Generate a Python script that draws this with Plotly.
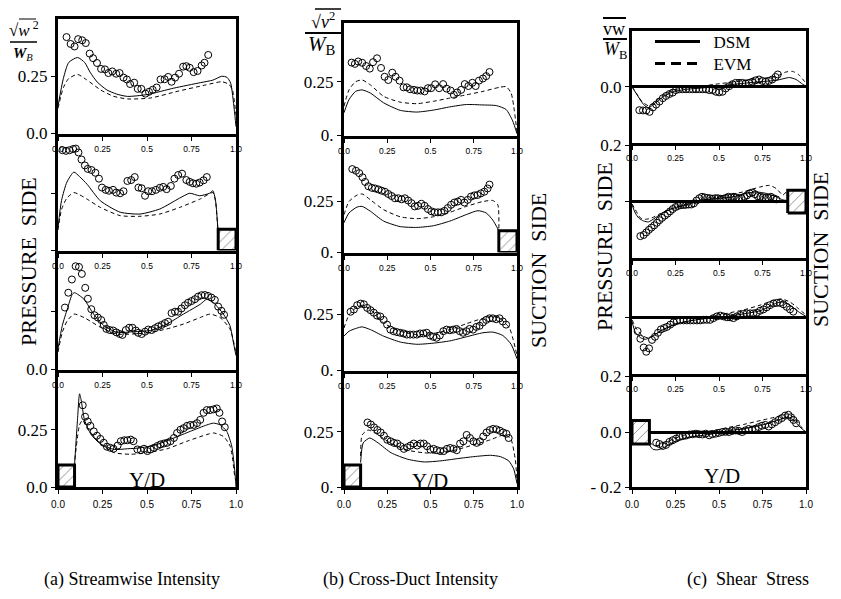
import plotly.graph_objects as go

SERIF = "Liberation Serif, Times New Roman, serif"
SANS = "Liberation Sans, Arial, sans-serif"
W, H = 841, 599
PAGE_PAD = 8  # default body margin of the html page; the figure is sized so the page is exactly W x H

XT_VALS = [0, 0.25, 0.5, 0.75, 1.0]
XT_TEXT = ["0.0", "0.25", "0.5", "0.75", "1.0"]

# ---------------- (a) streamwise intensity ----------------
A1_DSM_X = [0.0, 0.03, 0.06, 0.11, 0.15, 0.18, 0.22, 0.275, 0.33, 0.39, 0.5, 0.65, 0.8, 0.87, 0.92, 0.95, 0.97, 0.99, 1.0]
A1_DSM_Y = [0.12, 0.24, 0.31, 0.332, 0.31, 0.268, 0.225, 0.19, 0.172, 0.162, 0.17, 0.198, 0.222, 0.233, 0.25, 0.245, 0.22, 0.106, 0.03]
A1_EVM_X = [0.0, 0.03, 0.06, 0.11, 0.16, 0.24, 0.31, 0.39, 0.52, 0.67, 0.83, 0.92, 0.96, 0.98, 1.0]
A1_EVM_Y = [0.11, 0.2, 0.24, 0.258, 0.235, 0.19, 0.163, 0.151, 0.155, 0.184, 0.212, 0.226, 0.215, 0.19, 0.08]
A1_EXP_X = [.048, .071, .093, .113, .136, .156, .178, .197, .219, .242, .264, .283, .305, .327, .346, .368, .387, .405, .428, .448,
            .468, .491, .511, .532, .554, .576, .599, .619, .638, .658, .680, .703, .721, .740, .762, .784, .807, .823, .844]
A1_EXP_Y = [.421, .391, .380, .412, .407, .395, .349, .329, .308, .282, .280, .264, .271, .261, .264, .244, .236, .216, .222, .195,
            .195, .174, .182, .191, .201, .236, .237, .247, .226, .244, .261, .292, .294, .287, .268, .273, .297, .309, .343]

A2_DSM_X = [0.0, 0.02, 0.05, 0.089, 0.12, 0.164, 0.238, 0.349, 0.461, 0.572, 0.684, 0.74, 0.796, 0.851, 0.87, 0.885, 0.898]
A2_DSM_Y = [0.1, 0.22, 0.3, 0.344, 0.325, 0.29, 0.218, 0.168, 0.16, 0.182, 0.23, 0.251, 0.24, 0.251, 0.262, 0.22, 0.095]
A2_EVM_X = [0.0, 0.02, 0.05, 0.089, 0.12, 0.164, 0.238, 0.349, 0.461, 0.572, 0.684, 0.796, 0.87, 0.885, 0.898]
A2_EVM_Y = [0.09, 0.18, 0.23, 0.254, 0.245, 0.225, 0.189, 0.153, 0.15, 0.16, 0.189, 0.225, 0.254, 0.215, 0.095]
A2_EXP_X = [.025, .045, .065, .085, .10, .115, .132, .151, .167, .188, .21, .23, .247, .268, .286, .309, .327, .349, .368, .39,
            .411, .431, .452, .47, .489, .507, .528, .55, .572, .591, .61, .634, .654, .675, .697, .721, .74, .758, .777, .796, .818, .836]
A2_EXP_Y = [.44, .437, .44, .445, .447, .43, .399, .373, .358, .353, .341, .315, .276, .266, .262, .266, .254, .251, .26, .305,
            .309, .322, .276, .273, .24, .26, .26, .266, .275, .279, .269, .283, .315, .331, .337, .309, .301, .295, .293, .298, .308, .322]
A2_STEP_X = [0.9, 1.0]
A2_STEP_Y = [0.0, 0.093]

A3_DSM_X = [0.0, 0.024, 0.052, 0.08, 0.093, 0.146, 0.2, 0.257, 0.332, 0.425, 0.519, 0.612, 0.705, 0.799, 0.836, 0.873, 0.929, 0.966, 0.985, 1.0]
A3_DSM_Y = [0.09, 0.189, 0.26, 0.324, 0.331, 0.303, 0.239, 0.189, 0.16, 0.163, 0.168, 0.196, 0.239, 0.281, 0.303, 0.288, 0.239, 0.189, 0.118, 0.06]
A3_EVM_X = [0.0, 0.024, 0.052, 0.09, 0.146, 0.239, 0.332, 0.425, 0.519, 0.612, 0.705, 0.799, 0.854, 0.91, 0.966, 1.0]
A3_EVM_Y = [0.075, 0.16, 0.21, 0.239, 0.224, 0.182, 0.153, 0.153, 0.16, 0.175, 0.196, 0.224, 0.239, 0.224, 0.175, 0.07]
A3_EXP_X = [.039, .058, .078, .099, .118, .134, .153, .168, .187, .205, .224, .243, .257, .272, .291, .31, .328, .347, .362, .381,
            .4, .418, .437, .451, .47, .489, .507, .526, .545, .563, .582, .601, .619, .638, .657, .675, .694, .713, .731, .75,
            .769, .787, .806, .825, .843, .862, .881, .9, .918, .933]
A3_EXP_Y = [.267, .331, .388, .445, .442, .412, .352, .305, .26, .234, .224, .213, .192, .175, .17, .168, .16, .153, .149, .17,
            .18, .18, .168, .158, .153, .163, .172, .17, .178, .186, .192, .2, .206, .243, .249, .249, .263, .277, .288, .295,
            .303, .314, .32, .321, .317, .31, .3, .271, .253, .236]

A4_DSM_X = [0.093, 0.11, 0.121, 0.13, 0.149, 0.186, 0.242, 0.316, 0.39, 0.465, 0.558, 0.651, 0.743, 0.836, 0.874, 0.911, 0.948, 0.976, 0.994, 1.0]
A4_DSM_Y = [0.096, 0.3, 0.407, 0.38, 0.293, 0.229, 0.186, 0.164, 0.167, 0.171, 0.186, 0.214, 0.243, 0.271, 0.279, 0.271, 0.243, 0.179, 0.064, 0.0]
A4_EVM_X = [0.095, 0.121, 0.139, 0.16, 0.223, 0.316, 0.409, 0.502, 0.613, 0.725, 0.836, 0.874, 0.929, 0.967, 0.994]
A4_EVM_Y = [0.12, 0.271, 0.293, 0.26, 0.2, 0.15, 0.143, 0.15, 0.167, 0.2, 0.229, 0.236, 0.221, 0.179, 0.036]
A4_EXP_X = [.139, .152, .167, .182, .201, .219, .238, .257, .275, .294, .312, .335, .353, .372, .39, .409, .424, .446, .465, .483,
            .502, .52, .539, .558, .576, .595, .613, .632, .651, .669, .688, .706, .725, .743, .762, .781, .799, .818, .836, .855,
            .874, .892, .907, .922, .937]
A4_EXP_Y = [.357, .307, .286, .267, .243, .224, .21, .193, .176, .171, .167, .181, .2, .204, .204, .207, .2, .164, .161, .167,
            .157, .164, .171, .179, .186, .19, .193, .2, .214, .236, .25, .257, .267, .271, .271, .279, .293, .324, .336, .336,
            .339, .343, .324, .286, .261]
A4_STEP_X = [0.0, 0.093]
A4_STEP_Y = [0.0, 0.096]

# ---------------- (b) cross-duct intensity ----------------
B1_DSM_X = [0.0, 0.029, 0.067, 0.105, 0.153, 0.229, 0.325, 0.421, 0.516, 0.612, 0.707, 0.803, 0.88, 0.937, 0.975, 1.0]
B1_DSM_Y = [0.106, 0.167, 0.205, 0.212, 0.197, 0.152, 0.117, 0.109, 0.118, 0.133, 0.144, 0.142, 0.139, 0.121, 0.068, 0.008]
B1_EVM_X = [0.0, 0.029, 0.067, 0.105, 0.153, 0.229, 0.325, 0.421, 0.516, 0.612, 0.707, 0.803, 0.899, 0.937, 0.966, 1.0]
B1_EVM_Y = [0.136, 0.212, 0.25, 0.258, 0.235, 0.182, 0.155, 0.148, 0.159, 0.174, 0.189, 0.205, 0.224, 0.227, 0.197, 0.015]
B1_EXP_X = [.044, .063, .082, .105, .128, .149, .168, .191, .214, .235, .256, .279, .298, .321, .344, .363, .382, .405, .424, .443,
            .466, .485, .504, .527, .55, .573, .593, .616, .635, .654, .677, .698, .719, .742, .761, .78, .803, .822, .841]
B1_EXP_Y = [.339, .333, .344, .338, .323, .311, .341, .359, .314, .273, .258, .292, .273, .255, .224, .224, .215, .212, .209, .209,
            .205, .220, .220, .238, .220, .239, .218, .209, .189, .2, .212, .239, .230, .245, .230, .255, .265, .276, .295]

B2_DSM_X = [0.0, 0.029, 0.076, 0.105, 0.153, 0.229, 0.325, 0.421, 0.516, 0.612, 0.707, 0.774, 0.822, 0.86, 0.895]
B2_DSM_Y = [0.146, 0.194, 0.223, 0.226, 0.202, 0.154, 0.127, 0.123, 0.131, 0.154, 0.186, 0.205, 0.194, 0.159, 0.107]
B2_EVM_X = [0.0, 0.029, 0.076, 0.105, 0.153, 0.229, 0.325, 0.421, 0.516, 0.612, 0.707, 0.803, 0.86, 0.889, 0.895]
B2_EVM_Y = [0.186, 0.25, 0.282, 0.287, 0.258, 0.21, 0.175, 0.166, 0.175, 0.197, 0.226, 0.25, 0.255, 0.234, 0.107]
B2_EXP_X = [.048, .069, .088, .107, .122, .141, .161, .18, .199, .218, .237, .256, .275, .294, .314, .333, .352, .371, .39, .409,
            .428, .447, .466, .485, .505, .524, .543, .562, .581, .6, .619, .638, .658, .677, .696, .715, .734, .753, .772, .791,
            .811, .83, .841]
B2_EXP_Y = [.409, .401, .389, .369, .346, .325, .317, .314, .309, .303, .298, .287, .277, .266, .266, .261, .266, .255, .242, .226,
            .229, .239, .229, .213, .202, .197, .197, .197, .204, .218, .234, .245, .25, .258, .245, .258, .274, .28, .282, .29,
            .298, .314, .333]
B2_STEP_X = [0.895, 1.0]
B2_STEP_Y = [0.0, 0.107]

B3_DSM_X = [0.0, 0.029, 0.076, 0.105, 0.153, 0.229, 0.325, 0.421, 0.516, 0.612, 0.707, 0.803, 0.86, 0.918, 0.966, 1.0]
B3_DSM_Y = [0.152, 0.174, 0.188, 0.193, 0.181, 0.152, 0.126, 0.116, 0.121, 0.131, 0.149, 0.167, 0.17, 0.155, 0.116, 0.052]
B3_EVM_X = [0.0, 0.029, 0.076, 0.105, 0.153, 0.229, 0.325, 0.421, 0.516, 0.612, 0.707, 0.803, 0.86, 0.899, 0.956, 1.0]
B3_EVM_Y = [0.188, 0.246, 0.282, 0.289, 0.27, 0.21, 0.174, 0.159, 0.164, 0.181, 0.207, 0.231, 0.239, 0.231, 0.188, 0.066]
B3_EXP_X = [.038, .057, .076, .096, .115, .134, .153, .172, .191, .21, .229, .249, .268, .287, .306, .325, .344, .363, .382, .402,
            .421, .44, .459, .478, .497, .516, .535, .554, .574, .593, .612, .631, .65, .669, .688, .707, .726, .746, .765, .784,
            .803, .822, .841, .86, .88, .899, .918, .937]
B3_EXP_Y = [.26, .27, .289, .296, .293, .277, .267, .256, .243, .239, .224, .203, .181, .174, .17, .167, .164, .159, .159, .159,
            .159, .164, .164, .167, .155, .149, .145, .155, .174, .181, .178, .181, .184, .174, .167, .174, .184, .181, .193, .198,
            .213, .224, .231, .231, .227, .231, .217, .203]

B4_DSM_X = [0.096, 0.111, 0.149, 0.197, 0.273, 0.369, 0.465, 0.56, 0.656, 0.751, 0.847, 0.904, 0.952, 0.981, 1.0]
B4_DSM_Y = [0.11, 0.199, 0.221, 0.199, 0.154, 0.125, 0.113, 0.118, 0.128, 0.137, 0.143, 0.137, 0.118, 0.081, 0.015]
B4_EVM_X = [0.096, 0.105, 0.14, 0.197, 0.273, 0.369, 0.465, 0.56, 0.656, 0.751, 0.847, 0.923, 0.962, 0.99, 1.0]
B4_EVM_Y = [0.14, 0.235, 0.257, 0.235, 0.196, 0.166, 0.154, 0.154, 0.169, 0.191, 0.213, 0.235, 0.221, 0.125, 0.029]
B4_EXP_X = [.136, .155, .174, .193, .212, .231, .25, .27, .289, .308, .327, .346, .365, .384, .403, .423, .442, .461, .48, .499,
            .518, .537, .556, .576, .595, .614, .633, .652, .671, .69, .709, .728, .748, .767, .786, .805, .824, .843, .862, .881,
            .901, .92, .939, .952]
B4_EXP_Y = [.291, .282, .269, .257, .246, .231, .213, .206, .199, .196, .184, .172, .179, .187, .196, .187, .196, .196, .184, .169,
            .172, .166, .162, .162, .172, .176, .172, .166, .196, .206, .235, .221, .206, .199, .206, .228, .246, .257, .262, .26,
            .254, .246, .24, .221]
B4_STEP_X = [0.0, 0.096]
B4_STEP_Y = [0.0, 0.099]

# ---------------- (c) shear stress ----------------
C1_DSM_X = [0.0, 0.029, 0.067, 0.095, 0.133, 0.181, 0.238, 0.314, 0.39, 0.467, 0.543, 0.638, 0.733, 0.829, 0.905, 0.943, 0.981, 1.0]
C1_DSM_Y = [0.0, -0.029, -0.064, -0.076, -0.058, -0.035, -0.018, -0.009, -0.005, 0.0, 0.006, 0.012, 0.018, 0.023, 0.033, 0.026, 0.009, 0.002]
C1_EVM_X = [0.0, 0.025, 0.057, 0.095, 0.133, 0.181, 0.238, 0.314, 0.39, 0.467, 0.543, 0.638, 0.733, 0.829, 0.886, 0.924, 0.962, 1.0]
C1_EVM_Y = [0.0, -0.023, -0.053, -0.068, -0.053, -0.029, -0.012, -0.002, 0.002, 0.008, 0.014, 0.021, 0.028, 0.037, 0.053, 0.055, 0.041, 0.012]
C1_EXP_X = [.042, .063, .082, .101, .12, .139, .158, .177, .196, .215, .234, .253, .272, .291, .31, .33, .349, .368, .387, .406,
            .425, .444, .463, .482, .501, .52, .539, .558, .577, .596, .615, .634, .653, .672, .691, .71, .73, .749, .768, .787,
            .806, .825, .838]
C1_EXP_Y = [-.084, -.085, -.085, -.09, -.074, -.064, -.053, -.041, -.033, -.026, -.021, -.012, -.009, -.009, -.009, -.009, -.009, -.009, -.009, -.009,
            -.009, -.012, -.012, -.018, -.02, -.018, -.006, .002, .009, .014, .014, .014, .012, .014, .018, .023, .026, .021, .018, .021,
            .026, .035, .044]

C2_DSM_X = [0.0, 0.019, 0.038, 0.067, 0.095, 0.133, 0.181, 0.238, 0.314, 0.371, 0.429, 0.505, 0.581, 0.657, 0.714, 0.771, 0.829, 0.867, 0.895]
C2_DSM_Y = [-0.01, -0.039, -0.056, -0.067, -0.07, -0.056, -0.036, -0.022, -0.01, 0.0, 0.007, 0.013, 0.018, 0.03, 0.035, 0.03, 0.018, 0.007, 0.005]
C2_EVM_X = [0.0, 0.019, 0.048, 0.076, 0.114, 0.162, 0.238, 0.314, 0.39, 0.467, 0.543, 0.638, 0.733, 0.79, 0.829, 0.867, 0.886]
C2_EVM_Y = [-0.007, -0.027, -0.056, -0.061, -0.056, -0.041, -0.022, -0.007, 0.005, 0.013, 0.024, 0.035, 0.052, 0.058, 0.047, 0.024, 0.035]
C2_EXP_X = [.048, .067, .082, .097, .112, .128, .143, .158, .173, .189, .204, .219, .234, .25, .265, .28, .295, .31, .326, .341,
            .356, .371, .387, .402, .417, .432, .448, .463, .478, .493, .509, .524, .539, .554, .57, .585, .6, .615, .63, .646,
            .661, .676, .691, .707, .722, .737, .752, .768, .783, .798, .813, .829]
C2_EXP_Y = [-.12, -.116, -.107, -.098, -.09, -.082, -.073, -.064, -.056, -.048, -.041, -.033, -.025, -.018, -.014, -.011, -.011, -.01, -.009, -.009,
            -.005, .005, .013, .018, .016, .014, .013, .011, .013, .013, .011, .011, .014, .018, .016, .018, .016, .013, .013, .018,
            .023, .03, .033, .027, .02, .018, .016, .014, .014, .018, .013, .009]
C2_STEP_X = [0.895, 1.0]
C2_STEP_Y = [-0.039, 0.041]

C3_DSM_X = [0.0, 0.019, 0.048, 0.076, 0.114, 0.162, 0.239, 0.315, 0.392, 0.468, 0.545, 0.641, 0.736, 0.793, 0.832, 0.87, 0.908, 0.956, 1.0]
C3_DSM_Y = [-0.013, -0.051, -0.07, -0.076, -0.067, -0.047, -0.024, -0.013, -0.005, 0.0, 0.005, 0.014, 0.025, 0.041, 0.053, 0.056, 0.045, 0.022, 0.005]
C3_EVM_X = [0.0, 0.023, 0.057, 0.086, 0.124, 0.182, 0.258, 0.354, 0.449, 0.545, 0.641, 0.736, 0.813, 0.86, 0.908, 0.956, 1.0]
C3_EVM_Y = [-0.007, -0.036, -0.062, -0.07, -0.062, -0.041, -0.021, -0.007, 0.005, 0.016, 0.028, 0.045, 0.062, 0.067, 0.056, 0.033, 0.01]
C3_EXP_X = [.032, .048, .067, .082, .098, .115, .132, .149, .166, .184, .201, .22, .239, .258, .277, .296, .315, .335, .354, .373,
            .392, .411, .43, .449, .468, .488, .507, .526, .545, .564, .583, .602, .621, .641, .66, .679, .698, .717, .736, .755,
            .774, .793, .813, .832, .851, .87, .889, .908, .927]
C3_EXP_Y = [-.047, -.074, -.105, -.12, -.108, -.078, -.067, -.053, -.041, -.036, -.032, -.024, -.016, -.011, -.009, -.009, -.009, -.009, -.009, -.009,
            -.009, -.007, -.007, -.007, -.001, .005, .008, .005, .002, .002, -.001, .005, .01, .014, .016, .016, .016, .018, .025, .03,
            .037, .045, .051, .053, .053, .048, .039, .03, .022]

C4_DSM_X = [0.1, 0.12, 0.148, 0.186, 0.243, 0.319, 0.395, 0.471, 0.548, 0.643, 0.738, 0.833, 0.89, 0.928, 0.966, 1.0]
C4_DSM_Y = [-0.046, -0.062, -0.064, -0.055, -0.035, -0.019, -0.012, -0.005, 0.005, 0.013, 0.025, 0.043, 0.055, 0.045, 0.019, 0.0]
C4_EVM_X = [0.1, 0.12, 0.148, 0.186, 0.243, 0.319, 0.395, 0.471, 0.548, 0.643, 0.738, 0.833, 0.89, 0.928, 0.966, 1.0]
C4_EVM_Y = [-0.035, -0.046, -0.05, -0.04, -0.023, -0.007, 0.0, 0.007, 0.017, 0.029, 0.043, 0.057, 0.067, 0.055, 0.025, 0.0]
C4_EXP_X = [.139, .158, .177, .196, .215, .234, .253, .272, .291, .31, .329, .348, .367, .386, .405, .424, .443, .462, .481, .5,
            .519, .538, .557, .576, .595, .614, .633, .652, .671, .69, .709, .728, .747, .766, .785, .804, .823, .842, .861, .88,
            .899, .914, .928, .943]
C4_EXP_Y = [-.038, -.043, -.05, -.046, -.035, -.029, -.023, -.017, -.014, -.012, -.008, -.007, -.005, -.007, -.008, -.005, -.011, -.007, -.005, -.002,
            .001, .002, .001, .005, .007, .005, .001, .007, .012, .01, .013, .019, .024, .027, .021, .029, .037, .045, .052, .061,
            .064, .055, .045, .033]
C4_STEP_X = [0.0, 0.1]
C4_STEP_Y = [-0.043, 0.043]

FW, FH = W - 2 * PAGE_PAD, H - 2 * PAGE_PAD


def px(x):
    return (x - PAGE_PAD) / FW


def py(y):
    return 1 - (y - PAGE_PAD) / FH


# pixel frames of the three columns, and the row borders of each
COL_X = {"a": (58, 236), "b": (344, 517), "c": (632, 806)}
ROW_Y = {"a": [19, 135, 252, 371, 487], "b": [23, 137, 254, 372, 487], "c": [31, 144, 259, 375, 487]}
LW = 3  # frame line width; lines sit outside the domain, so inner borders are pulled in by half a line

panels = [
    # col, row, dsm, evm, exp, step, yrange, ytick vals, ytick text
    ("a", 0, (A1_DSM_X, A1_DSM_Y), (A1_EVM_X, A1_EVM_Y), (A1_EXP_X, A1_EXP_Y), None, [0, 0.5], [0, 0.25], ["0.0", "0.25"]),
    ("a", 1, (A2_DSM_X, A2_DSM_Y), (A2_EVM_X, A2_EVM_Y), (A2_EXP_X, A2_EXP_Y), (A2_STEP_X, A2_STEP_Y), [0, 0.5], [0, 0.25], ["", ""]),
    ("a", 2, (A3_DSM_X, A3_DSM_Y), (A3_EVM_X, A3_EVM_Y), (A3_EXP_X, A3_EXP_Y), None, [0, 0.5], [0, 0.25], ["0.0", ""]),
    ("a", 3, (A4_DSM_X, A4_DSM_Y), (A4_EVM_X, A4_EVM_Y), (A4_EXP_X, A4_EXP_Y), (A4_STEP_X, A4_STEP_Y), [0, 0.5], [0, 0.25], ["0.0", "0.25"]),
    ("b", 0, (B1_DSM_X, B1_DSM_Y), (B1_EVM_X, B1_EVM_Y), (B1_EXP_X, B1_EXP_Y), None, [0, 0.523], [0, 0.25], ["0.", "0.25"]),
    ("b", 1, (B2_DSM_X, B2_DSM_Y), (B2_EVM_X, B2_EVM_Y), (B2_EXP_X, B2_EXP_Y), (B2_STEP_X, B2_STEP_Y), [0, 0.559], [0, 0.25], ["0.", "0.25"]),
    ("b", 2, (B3_DSM_X, B3_DSM_Y), (B3_EVM_X, B3_EVM_Y), (B3_EXP_X, B3_EXP_Y), None, [0, 0.509], [0, 0.25], ["0.", "0.25"]),
    ("b", 3, (B4_DSM_X, B4_DSM_Y), (B4_EVM_X, B4_EVM_Y), (B4_EXP_X, B4_EXP_Y), (B4_STEP_X, B4_STEP_Y), [0, 0.512], [0, 0.25], ["0.", "0.25"]),
    ("c", 0, (C1_DSM_X, C1_DSM_Y), (C1_EVM_X, C1_EVM_Y), (C1_EXP_X, C1_EXP_Y), None, [-0.2, 0.2], [0], ["0.0"]),
    ("c", 1, (C2_DSM_X, C2_DSM_Y), (C2_EVM_X, C2_EVM_Y), (C2_EXP_X, C2_EXP_Y), (C2_STEP_X, C2_STEP_Y), [-0.195, 0.198], [0, 0.198], ["", "0.2"]),
    ("c", 2, (C3_DSM_X, C3_DSM_Y), (C3_EVM_X, C3_EVM_Y), (C3_EXP_X, C3_EXP_Y), None, [-0.197, 0.203], [0], [""]),
    ("c", 3, (C4_DSM_X, C4_DSM_Y), (C4_EVM_X, C4_EVM_Y), (C4_EXP_X, C4_EXP_Y), (C4_STEP_X, C4_STEP_Y), [-0.2, 0.204], [-0.2, 0, 0.204], ["- 0.2", "0.0", "0.2"]),
]

fig = go.Figure()
layout = {}

for i, (col, row, dsm, evm, exp, step, yr, yv, yt) in enumerate(panels, start=1):
    xa = "x" if i == 1 else f"x{i}"
    ya = "y" if i == 1 else f"y{i}"
    x0, x1 = COL_X[col]
    rows = ROW_Y[col]
    bottom = row == 3
    top_px = rows[row] + (LW / 2 if row > 0 else 0)
    bot_px = rows[row + 1] - (LW / 2 if row < 3 else 0)

    layout["xaxis" if i == 1 else f"xaxis{i}"] = dict(
        domain=[px(x0), px(x1)], range=[0, 1], anchor=ya, automargin=False,
        tickvals=XT_VALS, ticktext=XT_TEXT, ticks="outside", ticklen=4, tickwidth=1,
        tickcolor="black", ticklabelstandoff=2 if bottom else 1,
        tickfont=dict(family=SANS, size=10 if bottom else 8.5, color="black"),
        showline=True, mirror=True, linewidth=LW, linecolor="black",
        showgrid=False, zeroline=False,
    )
    layout["yaxis" if i == 1 else f"yaxis{i}"] = dict(
        domain=[py(bot_px), py(top_px)], range=yr, anchor=xa, automargin=False,
        tickvals=yv, ticktext=yt, ticks="outside", ticklen=4, tickwidth=1, tickcolor="black",
        tickfont=dict(family=SERIF, size=17, color="black"),
        showline=True, mirror=True, linewidth=LW, linecolor="black",
        showgrid=False, zeroline=(col == "c"), zerolinewidth=3, zerolinecolor="black",
    )

    fig.add_trace(go.Scatter(x=dsm[0], y=dsm[1], mode="lines", xaxis=xa, yaxis=ya, showlegend=False,
                             line=dict(color="black", width=1, shape="spline", smoothing=0.6)))
    fig.add_trace(go.Scatter(x=evm[0], y=evm[1], mode="lines", xaxis=xa, yaxis=ya, showlegend=False,
                             line=dict(color="black", width=1, dash="4px,3px", shape="spline", smoothing=0.6)))
    fig.add_trace(go.Scatter(x=exp[0], y=exp[1], mode="markers", xaxis=xa, yaxis=ya, showlegend=False,
                             marker=dict(symbol="circle-open", size=7, color="black", line=dict(width=1))))
    if step is not None:
        sx, sy = step
        fig.add_trace(go.Scatter(
            x=[sx[0], sx[1], sx[1], sx[0], sx[0]], y=[sy[0], sy[0], sy[1], sy[1], sy[0]],
            mode="lines", fill="toself", fillcolor="white", xaxis=xa, yaxis=ya, showlegend=False,
            fillpattern=dict(shape="/", fgcolor="black", bgcolor="white", size=7, solidity=0.12),
            line=dict(color="black", width=3)))

# legend-only samples, one legend per row so each row can be placed exactly
fig.add_trace(go.Scatter(x=[None], y=[None], mode="lines", name="\u00a0\u00a0DSM", xaxis="x9", yaxis="y9",
                         legend="legend", line=dict(color="black", width=3)))
fig.add_trace(go.Scatter(x=[None], y=[None], mode="lines", name="\u00a0\u00a0EVM", xaxis="x9", yaxis="y9",
                         legend="legend2", line=dict(color="black", width=3, dash="10px,6px")))


def label(text, x, y, size, **kw):
    return dict(text=text, x=px(x), y=py(y), xref="paper", yref="paper", showarrow=False,
                xanchor="center", yanchor="middle", font=dict(family=SERIF, size=size, color="black"), **kw)


ann = []
# side labels
for text, x, y in [("PRESSURE  SIDE", 28, 262), ("SUCTION  SIDE", 538, 271),
                   ("PRESSURE  SIDE", 605, 247), ("SUCTION  SIDE", 820, 250)]:
    ann.append(label(text, x, y, 22, textangle=-90))
# Y/D labels
for x, y in [(147, 480), (430, 481), (722, 476)]:
    ann.append(label("Y/D", x, y, 21))
# captions
for text, x in [("(a) Streamwise Intensity", 132), ("(b) Cross-Duct Intensity", 410), ("(c)  Shear  Stress", 748)]:
    ann.append(label(text, x, 579, 18))
# y-axis fraction labels
ann += [
    label("√<i>w</i><sup> 2</sup>", 24, 29, 17),
    label("<b><i>W</i></b><sub><i>B</i></sub>", 23, 54, 15),
    label("√<i>v</i><sup>2</sup>", 323, 20, 18),
    label("<i>W</i><sub>B</sub>", 322, 45, 21),
    label("vw", 614, 29, 18),
    label("<i>W</i><sub>B</sub>", 615, 51, 18),
]

shapes = []
for x0, x1, y, w in [(19, 36, 19, 1), (10, 37, 42, 1.5), (315, 341, 9, 1.5), (305, 341, 33, 2),
                     (603, 626, 18, 2), (603, 627, 39, 2)]:
    shapes.append(dict(type="line", xref="paper", yref="paper", x0=px(x0), x1=px(x1), y0=py(y), y1=py(y),
                       line=dict(color="black", width=w)))

legend_style = dict(xanchor="left", yanchor="middle", itemwidth=45, bgcolor="rgba(0,0,0,0)",
                    font=dict(family=SERIF, size=17, color="black"))

fig.update_layout(
    width=FW, height=FH, margin=dict(l=0, r=0, t=0, b=0, autoexpand=False),
    paper_bgcolor="white", plot_bgcolor="white",
    annotations=ann, shapes=shapes,
    legend=dict(x=px(650), y=py(42), **legend_style),
    legend2=dict(x=px(650), y=py(64), **legend_style),
    **layout,
)

fig.write_html("out.html")
